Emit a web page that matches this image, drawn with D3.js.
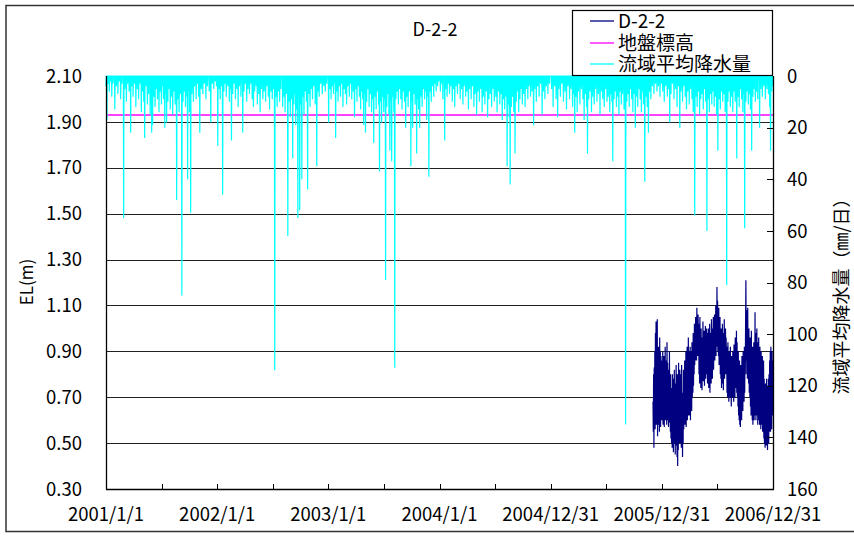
<!DOCTYPE html>
<html><head><meta charset="utf-8">
<script src="https://cdn.jsdelivr.net/npm/d3@7"></script>
<style>body{margin:0;background:#fff}svg{display:block}text{font-family:"Noto Sans CJK JP","Noto Sans",sans-serif;fill:#000}</style>
</head><body><svg id="c" width="854" height="537"></svg>
<script>
const chartTitle = "D-2-2";
const seriesNames = ["D-2-2", "地盤標高", "流域平均降水量"];
const xTickLabels = ["2001/1/1","2002/1/1","2003/1/1","2004/1/1","2004/12/31","2005/12/31","2006/12/31"];
const xTickDates = ["2001-01-01","2002-01-01","2003-01-01","2004-01-01","2004-12-31","2005-12-31","2006-12-31"];
const leftTicks = [0.30,0.50,0.70,0.90,1.10,1.30,1.50,1.70,1.90,2.10];
const rightTicks = [0,20,40,60,80,100,120,140,160];
const groundLevel = 1.93;

// daily precipitation events per year: [day of year, mm]
const rain2001 = [[1,4],[4,17],[8,3],[12,6],[16,2],[20,8],[24,3],[30,13],[35,4],[40,7],[44,2],[49,9],[53,3],[59,55],[63,5],[68,10],[72,3],[77,6],[82,22],[86,4],[90,8],[95,3],[99,12],[104,5],[108,9],[113,3],[117,14],[121,6],[125,10],[128,24],[133,4],[137,11],[141,7],[146,15],[151,22],[154,19],[158,8],[162,12],[166,5],[170,9],[175,14],[179,6],[183,11],[187,4],[190,9],[194,20],[197,7],[200,18],[204,10],[208,5],[212,13],[216,8],[220,15],[224,6],[228,11],[233,48],[237,9],[241,14],[245,7],[250,85],[254,10],[258,6],[262,12],[266,8],[269,40],[272,6],[275,14],[279,53],[283,7],[288,10],[292,4],[297,9],[301,3],[305,8],[309,22],[314,5],[319,7],[324,3],[329,9],[334,4],[340,6],[345,18],[350,3],[355,5],[360,2],[364,4]];
const rain2002 = [[3,27],[7,5],[11,9],[15,4],[19,46],[23,6],[27,3],[31,8],[36,4],[41,10],[45,5],[48,25],[52,7],[57,3],[61,9],[65,5],[70,12],[74,4],[79,8],[85,22],[89,6],[93,3],[98,10],[102,5],[107,7],[111,3],[116,9],[120,12],[124,6],[129,4],[133,11],[138,7],[142,14],[146,5],[151,9],[155,6],[160,10],[164,4],[169,8],[173,13],[178,6],[182,9],[186,5],[190,114],[194,8],[198,12],[202,6],[206,10],[210,5],[216,12],[220,8],[224,14],[228,7],[233,62],[237,10],[241,16],[245,9],[249,32],[253,11],[256,7],[259,19],[263,13],[266,55],[269,9],[272,52],[275,11],[279,40],[282,8],[286,15],[290,6],[294,10],[298,44],[302,7],[306,12],[310,5],[314,9],[318,4],[323,11],[328,35],[332,6],[336,8],[341,3],[346,7],[351,4],[356,6],[361,3]];
const rain2003 = [[2,18],[6,5],[10,9],[14,4],[18,7],[21,3],[25,24],[29,6],[33,10],[37,4],[41,8],[45,3],[49,12],[53,5],[57,7],[61,11],[65,4],[70,8],[74,3],[78,9],[83,6],[87,16],[91,5],[95,10],[99,4],[103,8],[107,13],[111,6],[114,9],[117,19],[120,7],[123,22],[127,10],[131,5],[135,12],[139,7],[143,14],[147,9],[150,26],[154,8],[158,13],[162,6],[166,11],[169,37],[173,10],[176,18],[180,8],[183,14],[186,9],[189,79],[193,12],[197,7],[200,15],[203,29],[206,10],[209,33],[213,8],[216,14],[219,113],[223,9],[227,6],[231,11],[235,5],[239,9],[243,13],[247,6],[251,10],[255,20],[259,8],[263,12],[267,6],[272,35],[275,10],[278,20],[282,7],[286,11],[291,30],[294,9],[297,13],[301,20],[305,8],[309,12],[313,5],[317,9],[321,6],[324,17],[328,8],[331,39],[335,6],[339,10],[343,4],[347,8],[351,3],[355,6],[360,4],[364,2]];
const rain2004 = [[4,6],[8,3],[12,9],[18,25],[22,5],[26,8],[30,3],[34,7],[39,4],[43,10],[47,5],[51,12],[55,4],[60,7],[64,3],[69,9],[73,5],[78,11],[82,4],[87,8],[91,6],[96,13],[100,5],[105,9],[109,4],[114,12],[118,7],[123,15],[127,6],[132,10],[136,5],[141,14],[145,8],[150,11],[154,6],[159,16],[163,9],[168,7],[172,12],[177,5],[181,10],[186,8],[190,14],[195,6],[199,11],[203,7],[207,17],[211,9],[215,13],[219,8],[223,35],[227,11],[230,16],[233,42],[237,12],[241,8],[245,14],[249,30],[253,10],[257,6],[261,14],[265,9],[269,5],[273,11],[277,7],[282,12],[286,5],[291,9],[295,4],[300,8],[305,6],[310,19],[314,5],[319,10],[323,4],[328,8],[333,3],[338,15],[342,6],[347,9],[352,4],[357,7],[362,3]];
const rain2005 = [[3,5],[8,12],[13,4],[18,9],[23,16],[27,5],[32,8],[37,3],[42,10],[47,6],[52,13],[57,4],[62,9],[67,5],[72,12],[76,7],[79,22],[83,8],[87,14],[91,6],[96,11],[101,5],[106,9],[110,17],[114,7],[118,12],[121,30],[125,9],[129,6],[134,14],[138,8],[143,11],[147,5],[152,10],[157,7],[162,15],[166,6],[171,9],[176,12],[180,5],[185,10],[189,8],[194,14],[198,7],[201,10],[204,33],[208,9],[212,6],[216,12],[220,8],[224,15],[228,6],[232,11],[236,7],[241,13],[246,135],[250,10],[254,7],[258,12],[262,5],[266,9],[270,14],[274,7],[278,20],[282,8],[286,12],[290,5],[294,9],[298,14],[302,6],[305,11],[309,41],[313,8],[317,12],[321,22],[325,6],[329,9],[334,4],[339,7],[344,3],[349,6],[354,4],[359,8],[363,3]];
const rain2006 = [[3,6],[8,10],[13,4],[18,8],[22,5],[26,18],[30,7],[35,3],[40,9],[45,5],[50,12],[55,4],[59,20],[63,6],[68,10],[72,4],[77,8],[81,13],[85,6],[90,11],[94,5],[99,9],[103,14],[108,54],[112,8],[116,12],[120,6],[124,15],[128,9],[132,7],[136,13],[140,5],[144,10],[148,60],[152,9],[156,14],[160,7],[164,11],[168,6],[172,12],[176,8],[180,15],[184,29],[188,9],[192,13],[196,6],[200,10],[204,7],[208,14],[213,81],[217,10],[221,6],[225,12],[229,8],[233,14],[237,6],[241,10],[246,32],[250,8],[254,12],[258,5],[262,9],[266,14],[269,7],[272,59],[276,10],[280,6],[284,11],[288,7],[291,13],[295,29],[299,8],[303,5],[307,10],[311,6],[315,9],[321,20],[325,5],[330,8],[335,4],[340,9],[345,5],[350,7],[354,12],[357,29],[361,6],[364,4]];
const rainYears = [2001,2002,2003,2004,2005,2006];

// D-2-2 water level (EL m), daily values per month
const lvStart = ["2005-12-02","2006-01-01","2006-02-01","2006-03-01","2006-04-01","2006-05-01","2006-06-01","2006-07-01","2006-08-01","2006-09-01","2006-10-01","2006-11-01","2006-12-01"];
const lv200512 = [0.68,0.55,0.80,0.48,0.83,0.60,0.90,0.56,0.98,0.62,1.03,0.58,0.95,0.66,1.04,0.53,0.88,0.60,0.92,0.58,0.85,0.55,0.96,0.62,0.90,0.57,0.88,0.64,0.86,0.60];
const lv200601 = [0.84,0.62,0.90,0.58,0.80,0.65,0.88,0.57,0.76,0.63,0.92,0.60,0.86,0.66,0.80,0.58,0.94,0.62,0.85,0.60,0.78,0.57,0.82,0.64,0.90,0.59,0.75,0.55,0.80,0.52,0.72];
const lv200602 = [0.50,0.74,0.48,0.80,0.55,0.70,0.46,0.78,0.52,0.82,0.50,0.68,0.45,0.76,0.56,0.84,0.49,0.72,0.44,0.80,0.40,0.70,0.47,0.85,0.52,0.74,0.50,0.82];
const lv200603 = [0.55,0.80,0.50,0.76,0.48,0.84,0.52,0.72,0.44,0.70,0.50,0.82,0.56,0.78,0.60,0.86,0.58,0.80,0.62,0.90,0.57,0.84,0.64,0.92,0.60,0.88,0.66,0.96,0.62,0.90,0.68];
const lv200604 = [0.88,0.62,0.92,0.60,0.85,0.66,0.90,0.64,0.94,0.70,0.88,0.72,0.98,0.75,0.95,0.80,1.02,0.84,0.98,0.86,1.05,0.88,1.00,0.86,1.09,0.90,1.04,0.88,1.06,0.92];
const lv200605 = [1.02,0.80,0.98,0.76,1.05,0.82,0.95,0.74,1.00,0.78,0.92,0.73,0.96,0.80,1.03,0.77,0.94,0.82,0.99,0.75,0.90,0.80,1.01,0.78,0.96,0.84,1.00,0.80,0.93,0.76,0.98];
const lv200606 = [0.80,1.00,0.74,0.95,0.78,1.02,0.72,0.92,0.80,0.98,0.76,1.04,0.82,0.96,0.78,1.00,0.85,1.05,0.82,0.98,0.88,1.06,0.86,1.02,0.90,1.10,0.88,1.08,0.92,1.18];
const lv200607 = [0.95,1.12,0.90,1.06,0.88,1.09,0.84,1.02,0.86,1.05,0.80,0.98,0.78,1.00,0.74,0.96,0.80,1.02,0.76,0.94,0.73,0.98,0.80,1.04,0.78,0.95,0.82,1.00,0.80,0.96,0.84];
const lv200608 = [0.92,0.72,0.88,0.70,0.94,0.75,0.86,0.68,0.90,0.74,0.84,0.70,0.92,0.72,0.86,0.66,0.88,0.74,0.82,0.70,0.90,0.76,0.85,0.68,0.93,0.72,0.87,0.70,0.96,0.74,0.90];
const lv200609 = [0.78,0.99,0.72,0.94,0.70,0.88,0.66,0.90,0.62,0.82,0.60,0.86,0.58,0.80,0.57,0.84,0.62,0.78,0.60,0.88,0.66,0.82,0.64,0.90,0.70,0.86,0.68,0.92,0.72,0.88];
const lv200610 = [0.80,1.02,1.21,0.86,1.08,0.80,1.04,0.78,1.09,0.82,0.98,0.76,1.00,0.72,0.94,0.70,0.96,0.66,0.90,0.62,0.99,0.64,0.88,0.60,0.92,0.58,0.86,0.62,0.94,0.60,0.88];
const lv200611 = [0.64,1.07,0.62,0.98,0.60,0.92,0.66,1.00,0.62,0.94,0.58,0.90,0.64,0.96,0.60,0.88,0.58,0.92,0.62,0.86,0.56,0.90,0.60,0.84,0.58,0.88,0.55,0.82,0.56,0.86];
const lv200612 = [0.52,0.78,0.50,0.74,0.48,0.76,0.52,0.70,0.49,0.78,0.50,0.72,0.47,0.75,0.52,0.78,0.50,0.80,0.55,0.86,0.58,0.90,0.55,0.92,0.60,0.88,0.56,0.90,0.62,0.86,0.70];
const lvMonths = [lv200512,lv200601,lv200602,lv200603,lv200604,lv200605,lv200606,lv200607,lv200608,lv200609,lv200610,lv200611,lv200612];

// ---------------------------------------------------------------
const origin = Date.UTC(2001,0,1);
const dayIndex = s => { const [y,m,d] = s.split("-").map(Number); return (Date.UTC(y,m-1,d)-origin)/864e5; };
const lastDay = dayIndex("2006-12-31");

const svg = d3.select("#c");
const L = 106, R = 773, T = 76, B = 489;
const x = d3.scaleLinear().domain([0,lastDay]).range([L,R]);
const yL = d3.scaleLinear().domain([0.30,2.10]).range([B,T]);
const yR = d3.scaleLinear().domain([0,160]).range([T,B]);

// outer border
svg.append("rect").attr("x",6).attr("y",5.5).attr("width",860).attr("height",526)
  .attr("fill","#fff").attr("stroke","#333").attr("stroke-width",1.5);

// gridlines
svg.append("g").selectAll("line").data(leftTicks.slice(1,-1)).join("line")
  .attr("x1",L).attr("x2",R).attr("y1",d=>Math.round(yL(d))+0.5).attr("y2",d=>Math.round(yL(d))+0.5)
  .attr("stroke","#222").attr("stroke-width",1.2);

// precipitation daily series
const rainDaily = new Array(lastDay+1).fill(0);
[rain2001,rain2002,rain2003,rain2004,rain2005,rain2006].forEach((arr,i)=>{
  const y0 = dayIndex(rainYears[i]+"-01-01");
  arr.forEach(([doy,mm])=>{ rainDaily[y0+doy-1] = mm; });
});

// ground level
svg.append("line").attr("x1",x(0)).attr("x2",x(lastDay))
  .attr("y1",yL(groundLevel)).attr("y2",yL(groundLevel))
  .attr("stroke","#ff00ff").attr("stroke-width",1.6);

svg.append("path").datum(rainDaily)
  .attr("fill","none").attr("stroke","#00ffff").attr("stroke-width",1.2).attr("stroke-linejoin","miter")
  .attr("d", d3.line().x((d,i)=>x(i)).y(d=>yR(d)));

// water level
const level = [];
lvMonths.forEach((arr,k)=>{
  const s = dayIndex(lvStart[k]);
  arr.forEach((v,i)=>level.push([s+i,v]));
});
svg.append("path").datum(level)
  .attr("fill","none").attr("stroke","#000080").attr("stroke-width",1.2)
  .attr("d", d3.line().x(d=>x(d[0])).y(d=>yL(d[1])));

// axes lines
svg.append("line").attr("x1",L+0.5).attr("x2",L+0.5).attr("y1",T).attr("y2",B).attr("stroke","#000").attr("stroke-width",1.3);
svg.append("line").attr("x1",R+0.5).attr("x2",R+0.5).attr("y1",T).attr("y2",B).attr("stroke","#000").attr("stroke-width",1.3);
svg.append("line").attr("x1",L).attr("x2",R+1).attr("y1",B+0.5).attr("y2",B+0.5).attr("stroke","#000").attr("stroke-width",1.3);

// x ticks (half-year major unit)
const xt = [];
for (let k=1;k<12;k++) xt.push(k*lastDay/12);
svg.append("g").selectAll("line").data(xt).join("line")
  .attr("x1",d=>Math.round(x(d))+0.5).attr("x2",d=>Math.round(x(d))+0.5).attr("y1",B-5).attr("y2",B)
  .attr("stroke","#000").attr("stroke-width",1);
// right ticks
svg.append("g").selectAll("line").data(rightTicks.slice(1,-1)).join("line")
  .attr("x1",R-6).attr("x2",R).attr("y1",d=>Math.round(yR(d))+0.5).attr("y2",d=>Math.round(yR(d))+0.5)
  .attr("stroke","#000").attr("stroke-width",1);

// tick labels
svg.append("g").selectAll("text").data(leftTicks).join("text")
  .attr("x",82).attr("y",d=>yL(d)).attr("dy","0.36em").attr("text-anchor","end")
  .attr("font-size",18.5).text(d=>d.toFixed(2));
svg.append("g").selectAll("text").data(rightTicks).join("text")
  .attr("x",787).attr("y",d=>yR(d)).attr("dy","0.36em").attr("text-anchor","start")
  .attr("font-size",18.5).text(d=>d);
svg.append("g").selectAll("text").data(xTickLabels).join("text")
  .attr("x",(d,i)=>x(dayIndex(xTickDates[i]))).attr("y",521).attr("text-anchor","middle")
  .attr("font-size",18.5).text(d=>d);

// axis titles
svg.append("text").attr("transform","translate(33,282) rotate(-90)").attr("text-anchor","middle")
  .attr("font-size",17).text("EL(m)");
svg.append("text").attr("transform","translate(848,292) rotate(-90)").attr("text-anchor","middle")
  .attr("font-size",18).text("流域平均降水量（㎜/日）");

// title
svg.append("text").attr("x",435).attr("y",36).attr("text-anchor","middle").attr("font-size",18).text(chartTitle);

// legend
const lg = svg.append("g");
lg.append("rect").attr("x",572.5).attr("y",10.5).attr("width",200).attr("height",65)
  .attr("fill","#fff").attr("stroke","#000").attr("stroke-width",1.2);
const legColors = ["#000080","#ff00ff","#00ffff"];
const legY = [21,43,64];
seriesNames.forEach((n,i)=>{
  lg.append("line").attr("x1",590).attr("x2",614).attr("y1",legY[i]).attr("y2",legY[i])
    .attr("stroke",legColors[i]).attr("stroke-width",1.3);
  lg.append("text").attr("x",618).attr("y",legY[i]).attr("dy","0.36em").attr("font-size",19).text(n);
});
</script></body></html>
